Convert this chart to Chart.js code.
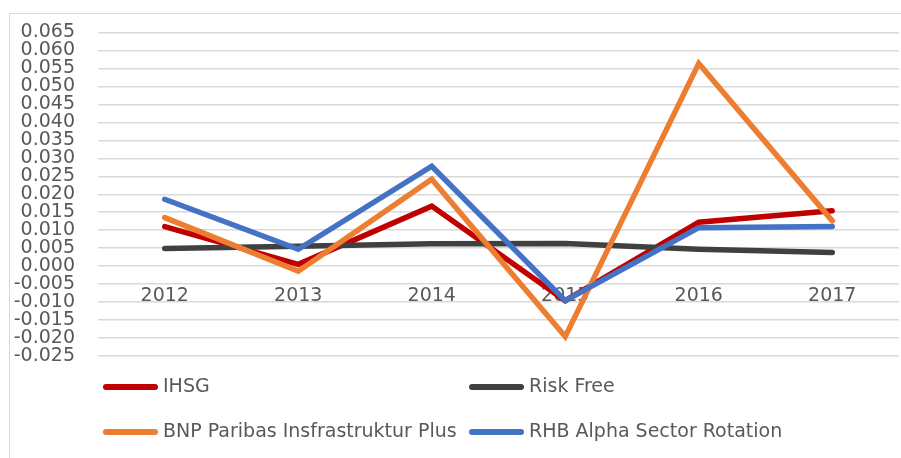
<!DOCTYPE html>
<html>
<head>
<meta charset="utf-8">
<script src="https://cdn.jsdelivr.net/npm/chart.js@4/dist/chart.umd.min.js"></script>
<style>
  body { margin: 0; background: #fff; }
  #wrap { position: relative; width: 901px; height: 458px; overflow: hidden; }
  #frame {
    position: absolute; left: 9px; top: 13px; width: 1000px; height: 1000px;
    border-left: 1.5px solid #d9d9d9; border-top: 1.5px solid #d9d9d9;
  }
  #chart { position: absolute; left: 0; top: 0; }
</style>
</head>
<body>
<div id="wrap">
  <div id="frame"></div>
  <canvas id="chart" width="901" height="458"></canvas>
</div>
<script>
// data
const years = ["2012", "2013", "2014", "2015", "2016", "2017"];
const ihsg = [0.0110, 0.0005, 0.0167, -0.0096, 0.0122, 0.0154];
const riskFree = [0.0049, 0.0055, 0.0062, 0.0063, 0.0047, 0.0038];
const bnp = [0.0135, -0.0014, 0.0242, -0.0196, 0.0564, 0.0126];
const rhb = [0.0186, 0.0047, 0.0278, -0.0096, 0.0107, 0.0110];

const seriesNames = ["IHSG", "Risk Free", "BNP Paribas Insfrastruktur Plus", "RHB Alpha Sector Rotation"];
const seriesColors = ["#c00000", "#404040", "#ed7d31", "#4472c4"];
const seriesData = [ihsg, riskFree, bnp, rhb];

const FONT = "DejaVu Sans";
const TEXT_COLOR = "#595959";

// legend in two columns under the plot, like the Excel one
const twoColumnLegend = {
  id: "twoColumnLegend",
  afterDraw(chart) {
    const ctx = chart.ctx;
    const area = chart.chartArea;
    const colX = [area.left + 5, area.left + 371];
    const rowY = [area.bottom + 31, area.bottom + 76];
    ctx.save();
    ctx.font = "19px '" + FONT + "'";
    ctx.textBaseline = "middle";
    ctx.textAlign = "left";
    chart.data.datasets.forEach((ds, i) => {
      const x = colX[i % 2];
      const y = rowY[Math.floor(i / 2)];
      ctx.strokeStyle = ds.borderColor;
      ctx.lineWidth = 6;
      ctx.lineCap = "round";
      ctx.beginPath();
      ctx.moveTo(x + 3, y);
      ctx.lineTo(x + 52, y);
      ctx.stroke();
      ctx.fillStyle = TEXT_COLOR;
      ctx.fillText(ds.label, x + 60, y);
    });
    ctx.restore();
  },
};

const datasets = seriesNames.map((name, i) => ({
  label: name,
  data: seriesData[i],
  borderColor: seriesColors[i],
  backgroundColor: seriesColors[i],
  borderWidth: 5.5,
  borderCapStyle: "round",
  pointRadius: 0,
  tension: 0,
  order: seriesNames.length - i,
}));

new Chart(document.getElementById("chart"), {
  type: "line",
  data: { labels: years, datasets: datasets },
  options: {
    responsive: false,
    animation: false,
    layout: { padding: { left: 0, right: 2, top: 28, bottom: 102 } },
    plugins: {
      legend: { display: false },
      tooltip: { enabled: false },
    },
    scales: {
      x: {
        position: { y: 0 },
        offset: true,
        grid: { display: false, drawTicks: false },
        border: { display: false },
        ticks: {
          padding: 19,
          color: TEXT_COLOR,
          font: { family: FONT, size: 19 },
        },
        afterFit: (scale) => {
          scale.height = 0;
        },
      },
      y: {
        min: -0.025,
        max: 0.065,
        grid: { color: "#d9d9d9", lineWidth: 1.5, drawTicks: false },
        border: { display: false },
        ticks: {
          stepSize: 0.005,
          autoSkip: false,
          padding: 23,
          color: TEXT_COLOR,
          font: { family: FONT, size: 19, lineHeight: 1 },
          callback: (v) => Number(v).toFixed(3),
        },
        afterFit: (scale) => {
          scale.width = 98;
        },
      },
    },
  },
  plugins: [twoColumnLegend],
});
</script>
</body>
</html>
